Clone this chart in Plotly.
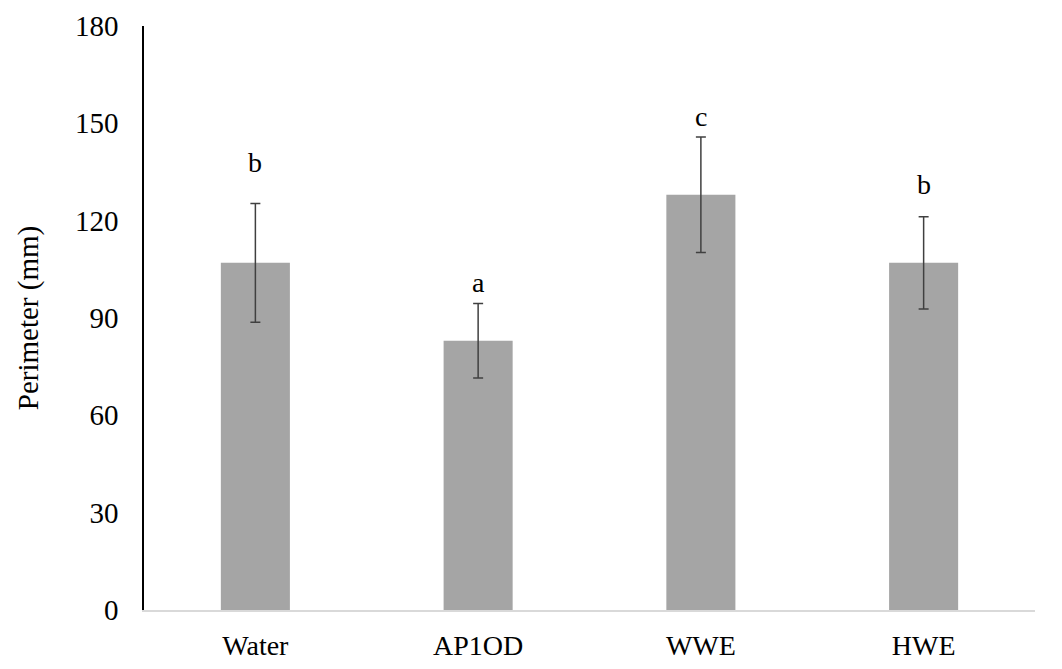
import plotly.graph_objects as go

treatments = ['Water', 'AP1OD', 'WWE', 'HWE']
perimeter = [107.0, 83.0, 128.0, 107.0]
std_err = [18.3, 11.5, 17.8, 14.2]
letters = ['b', 'a', 'c', 'b']
letter_y = [138, 101, 152, 131]
y_ticks = [0, 30, 60, 90, 120, 150, 180]

serif = 'Liberation Serif'

fig = go.Figure()

fig.add_trace(go.Bar(
    x=treatments,
    y=perimeter,
    marker=dict(color='#a5a5a5', line=dict(width=0)),
    error_y=dict(type='data', array=std_err, visible=True,
                 color='#404040', thickness=1.5, width=5),
    width=0.31,
    showlegend=False,
))

for name, letter, ly in zip(treatments, letters, letter_y):
    fig.add_annotation(x=name, y=ly, text=letter, showarrow=False,
                       font=dict(family=serif, size=28, color='black'))

# page body has an 8px margin, so margins are shifted to compensate
fig.update_layout(
    width=1062,
    height=669,
    margin=dict(l=136, r=35, t=18, b=67),
    plot_bgcolor='white',
    paper_bgcolor='white',
    font=dict(family=serif, color='black'),
)

fig.update_xaxes(
    showline=True, linecolor='#d9d9d9', linewidth=1.5,
    showgrid=False, ticks='', automargin=False,
    tickfont=dict(family=serif, size=28, color='black'),
    ticklabelstandoff=10,
)

fig.update_yaxes(
    range=[0, 180], tickvals=y_ticks,
    showline=True, linecolor='black', linewidth=1.5,
    showgrid=False, zeroline=False, ticks='', automargin=False,
    tickfont=dict(family=serif, size=29, color='black'),
    ticklabelstandoff=18,
    title=dict(text='Perimeter (mm)', font=dict(family=serif, size=29, color='black'),
               standoff=28),
)

fig.write_html('out.html')
